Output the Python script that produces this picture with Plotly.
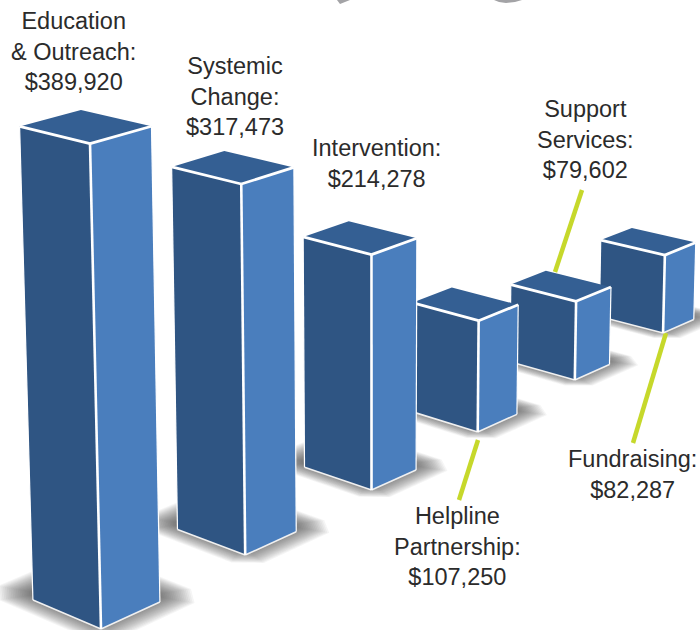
import plotly.graph_objects as go

# ---- data ----
categories = ["Education<br>& Outreach:", "Systemic<br>Change:", "Intervention:",
              "Helpline<br>Partnership:", "Support<br>Services:", "Fundraising:"]
values = [389920, 317473, 214278, 107250, 79602, 82287]

# ---- label placement (pixels) ----
label_x = [73.5, 235, 376, 457.5, 585.5, 632]
label_y = [51.5, 96, 163, 546.5, 139.5, 474]

# ---- perspective model of the drawing ----
ORIGIN = (101.0, 629.0)          # image of the front base corner of the first bar
VP_U = (-2546.0, -499.0)         # vanishing point, front -> left edge
VP_V = (2900.0, -653.0)          # vanishing point, front -> right edge
VP_Z = (375.0, 12750.0)          # vanishing point of the vertical edges
K_U, K_V = 0.0264, 0.0215        # foreshortening of one bar side
K_Z = -0.0385 / max(values)      # foreshortening of one dollar of height
# where each bar stands on the ground, as a projective weight along each edge direction
ROW_U = [0.0, 0.0036, 0.0072, 0.0124, 0.0170, 0.0215]
ROW_V = [0.0, 0.0581, 0.1153, 0.1710, 0.2266, 0.2821]
SIDE_TAPER = 0.55                # the drawn right faces narrow a little along the row


def project(u, v, z):
    a, b, c = u * K_U, v * K_V, z * K_Z
    w = 1 + a + b + c
    return ((ORIGIN[0] + a * VP_U[0] + b * VP_V[0] + c * VP_Z[0]) / w,
            (ORIGIN[1] + a * VP_U[1] + b * VP_V[1] + c * VP_Z[1]) / w)


def poly(points, fill):
    xs, ys = zip(*[project(*p) for p in points])
    return go.Scatter(x=list(xs) + [xs[0]], y=list(ys) + [ys[0]], mode="lines", fill="toself",
                      fillcolor=fill, line=dict(width=0), hoverinfo="skip")


def edge(p, q, width, color="white"):
    a, b = project(*p), project(*q)
    return go.Scatter(x=[a[0], b[0]], y=[a[1], b[1]], mode="lines",
                      line=dict(color=color, width=width), hoverinfo="skip")


traces = []
n = len(values)

# soft shadows on the ground: stacked, rounded footprints
LAYERS = 24
for i in range(n):
    u0, v0 = ROW_U[i] / K_U, ROW_V[i] / K_V
    side = 1 - SIDE_TAPER * ROW_V[i]
    for k in range(LAYERS):
        t = 1 - k / (LAYERS - 1)
        e = 0.46 * t - 0.06
        s = 0.12
        c = 0.55 * max(e, 0) + 0.04
        ua, ub = u0 + s - e, u0 + 1 + s + e
        va, vb = v0 + s - e, v0 + side + s + e
        traces.append(poly([(ua + c, va, 0), (ub - c, va, 0), (ub, va + c, 0), (ub, vb - c, 0),
                            (ub - c, vb, 0), (ua + c, vb, 0), (ua, vb - c, 0), (ua, va + c, 0)],
                           "rgba(60,60,60,0.05)"))

# leader lines (pixels)
leaders = [((582, 190), (555, 272)), ((478, 440), (459, 500)), ((666, 333), (633, 443))]
for (x0, y0), (x1, y1) in leaders:
    traces.append(go.Scatter(x=[x0, x1], y=[y0, y1], mode="lines",
                             line=dict(color="#c6d82b", width=4.5), hoverinfo="skip"))

# bars, far to near
for i in reversed(range(n)):
    u0, v0, h = ROW_U[i] / K_U, ROW_V[i] / K_V, values[i]
    side = 1 - SIDE_TAPER * ROW_V[i]
    f0, l0, r0 = (u0, v0, 0), (u0 + 1, v0, 0), (u0, v0 + side, 0)
    f1, l1, r1, b1 = (u0, v0, h), (u0 + 1, v0, h), (u0, v0 + side, h), (u0 + 1, v0 + side, h)
    traces.append(poly([f0, l0, l1, f1], "#2f5583"))
    traces.append(poly([f0, r0, r1, f1], "#4a7ebd"))
    traces.append(poly([f1, l1, b1, r1], "#345f93"))
    traces.append(edge(f0, l0, 1.6, "#f0f0f0"))
    traces.append(edge(f0, r0, 1.6, "#f0f0f0"))
    traces.append(edge(l0, l1, 1.2))
    traces.append(edge(r0, r1, 1.2))
    traces.append(edge(f0, f1, 2.6))
    traces.append(edge(f1, l1, 2.8))
    traces.append(edge(f1, r1, 2.8))

# cropped logo fragments at the top edge
traces.append(go.Scatter(x=[337, 350, 340, 337], y=[0, 0, 4, 0], mode="lines", fill="toself",
                         fillcolor="#a3a3a6", line=dict(width=0), hoverinfo="skip"))
traces.append(go.Scatter(x=[494, 522, 515, 506, 499, 494], y=[0, 0, 2, 3, 2, 0], mode="lines", fill="toself",
                         fillcolor="#a3a3a6", line=dict(width=0), hoverinfo="skip"))

annotations = []
for cat, val, x, y in zip(categories, values, label_x, label_y):
    annotations.append(dict(x=x, y=y, xref="x", yref="y", showarrow=False,
                            text=f"{cat}<br>${val:,}", align="center", xanchor="center", yanchor="middle",
                            font=dict(family="Liberation Sans", size=23.5, color="#2b2b2b")))

fig = go.Figure(traces)
fig.update_layout(
    width=700, height=630, margin=dict(l=0, r=0, t=0, b=0),
    paper_bgcolor="white", plot_bgcolor="white", showlegend=False,
    xaxis=dict(range=[0, 700], visible=False, fixedrange=True),
    yaxis=dict(range=[630, 0], visible=False, fixedrange=True),
    annotations=annotations,
)
fig.write_html("out.html", config=dict(displayModeBar=False),
               post_script="document.body.style.margin='0';document.documentElement.style.overflow='hidden';")
